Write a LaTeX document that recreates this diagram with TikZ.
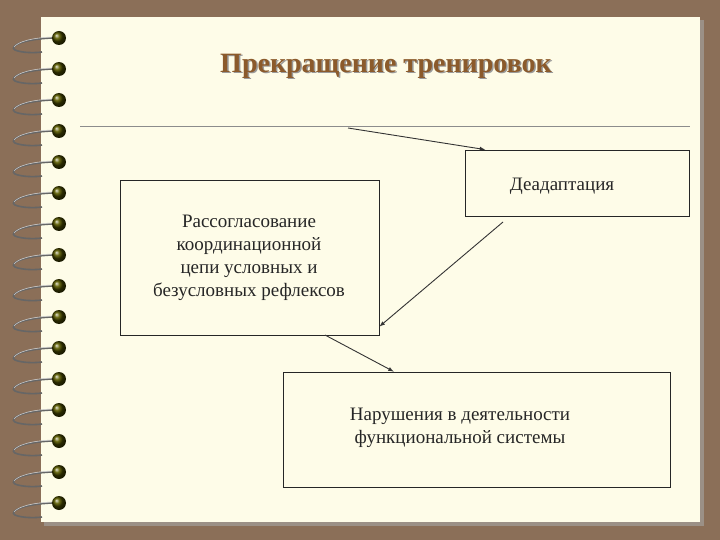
\documentclass[tikz,border=0pt]{standalone}
\usepackage{fontspec}
\setmainfont{Liberation Serif}
\begin{document}
\begin{tikzpicture}[x=1pt,y=-1pt,
  box/.style={draw=black!85,line width=0.8pt,fill=none},
  txt/.style={font=\fontsize{19}{23}\selectfont,align=center,text=black!85},
  arr/.style={draw=black!80,line width=0.9pt,-latex}]
\definecolor{frame}{HTML}{8B6F58}
\definecolor{paper}{HTML}{FEFCE8}
\definecolor{titlec}{HTML}{8B5A2B}
\useasboundingbox (0,0) rectangle (720,540);
\fill[frame] (0,0) rectangle (720,540);
\fill[black!35,opacity=0.6] (44,20) rectangle (704,526);
\fill[paper] (41,17) rectangle (700,522);
\foreach \i in {0,...,15}{
  \pgfmathsetmacro{\yy}{38+31*\i}
  \draw[black!60,line width=1.6pt] (52,\yy) .. controls (25,\yy+1) and (8,\yy+8) .. (15,\yy+12) .. controls (22,\yy+15) and (35,\yy+15) .. (42,\yy+14);
  \draw[white!80!black,line width=0.6pt] (52,\yy-1) .. controls (30,\yy) and (18,\yy+4) .. (14,\yy+9);
  \shade[ball color=black!55!olive] (59,\yy) circle (7);
}
\draw[black!45,line width=0.6pt] (80,126) -- (690,126);
\node[font=\bfseries\fontsize{28}{32}\selectfont,text=black!40] at (387.5,67.5) {Прекращение тренировок};
\node[font=\bfseries\fontsize{28}{32}\selectfont,text=titlec] (title) at (386,66) {Прекращение тренировок};
\node[box,minimum width=224,minimum height=66] (d) at (577,183) {};
\node[txt] at (562,186) {Деадаптация};
\node[box,minimum width=259,minimum height=155] (r) at (249.5,257.5) {};
\node[txt] at (249,258) {Рассогласование\\координационной\\цепи условных и\\безусловных рефлексов};
\node[box,minimum width=387,minimum height=115] (n) at (476.5,429.5) {};
\node[txt] at (460,428) {Нарушения в деятельности\\функциональной системы};
\coordinate (a1) at (348,128);
\coordinate (a2) at (503,222);
\coordinate (a3) at (325,335);
\draw[arr] (a1) -- (d.160);
\draw[arr] (a2) -- (r.-28);
\draw[arr] (a3) -- (n.145);
\end{tikzpicture}
\end{document}
